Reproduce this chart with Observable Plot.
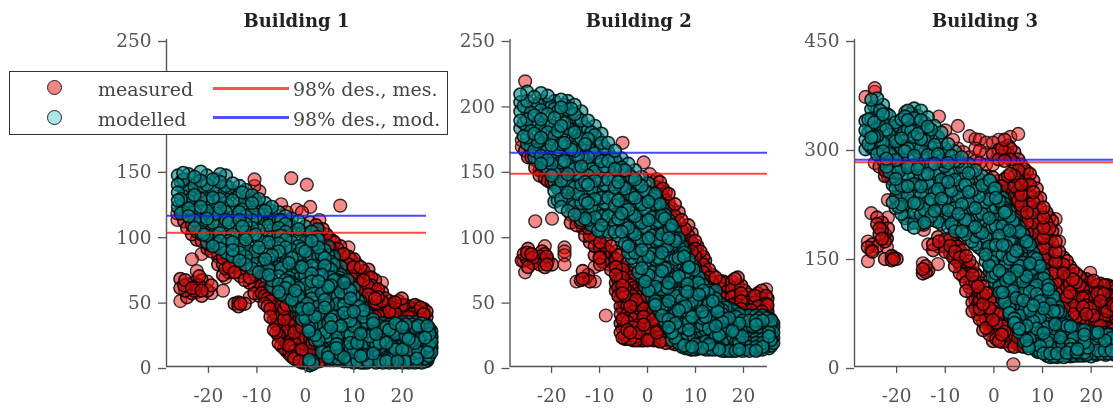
<!DOCTYPE html>
<html><head><meta charset="utf-8">
<script src="https://cdn.jsdelivr.net/npm/d3@7"></script>
<script src="https://cdn.jsdelivr.net/npm/@observablehq/plot@0.6"></script>
<style>
html,body{margin:0;padding:0;background:#fff;width:1113px;height:410px;overflow:hidden}
#wrap{position:relative;width:1113px;height:410px;overflow:hidden;filter:blur(.55px)}
.legend{position:absolute;left:9px;top:71px;width:437px;height:62px;background:#fff;border:1.4px solid #333;font-family:"DejaVu Serif",serif;font-size:19px;color:#444}
.legend span{position:absolute;white-space:nowrap}
.legend i{position:absolute;display:block;border-radius:50%;width:13px;height:13px;border:1.5px solid #222}
.legend b{position:absolute;display:block;height:3px;width:76px}
</style></head><body><div id="wrap"></div>
<script>
const titles=["Building 1","Building 2","Building 3"];
const xTicks=[-20,-10,0,10,20];
const yTicks1=[0,50,100,150,250];
const yTicks2=[0,50,100,150,200,250];
const yTicks3=[0,150,300,450];
const des1=[102.3,115.2],des2=[147.3,163.4],des3=[281,284.4];

const mod1=[[-26.3,[146,139,133,127,122]],[-25.2,[148,143,136,130,124,118]],[-24.1,[147,140,134,127,121,115]],[-22.9,[145,138,131,125,118,112,106]],[-21.6,[149,142,135,128,122,115,109,103]],[-20.3,[146,139,132,126,119,113,106,100,95]],[-19.1,[143,136,129,123,116,110,103,97,92]],[-17.6,[147,141,134,128,121,115,108,102,96,90]],[-16.4,[146,138,131,125,118,112,105,99,93,87]],[-15,[140,134,127,120,114,108,101,95,89,84]],[-13.6,[138,131,125,118,112,105,99,93,87,81]],[-12.3,[135,128,122,115,109,103,97,90,84,78]],[-11,[131,125,118,112,106,100,93,87,81,75]],[-9.6,[128,122,116,110,104,97,91,85,79,72]],[-8.3,[125,119,113,107,101,95,88,82,76,69]],[-6.9,[122,116,110,104,98,92,85,79,73,66,61]],[-5.5,[118,112,106,100,94,88,82,76,69,63,57]],[-4.1,[115,109,103,97,91,85,79,73,66,60,54]],[-2.8,[113,107,101,95,89,83,76,70,64,58,51]],[-1.4,[111,105,98,92,86,79,73,67,60,54,48,42]],[0,[107,101,95,88,82,75,69,63,56,50,44,37]],[1.3,[103,96,90,84,77,71,65,58,52,46,39,31,25]],[2.7,[97,91,84,78,72,65,59,53,46,40,33,27,20]],[4,[89,83,77,70,64,58,51,45,38,32,26,19,13]],[5.3,[80,74,68,62,55,49,43,36,30,24,18,12,6]],[6.7,[72,66,60,54,48,41,35,29,23,17,11,6]],[8,[65,59,53,47,41,35,29,23,17,12,7,4]],[9.3,[58,52,46,41,35,29,24,18,13,8,4]],[10.7,[51,45,40,34,29,23,18,13,8,4]],[12,[43,38,33,28,23,18,14,9,5,3]],[13.3,[36,33,28,23,19,15,11,7,4]],[14.6,[33,29,25,21,17,13,9,5,3]],[16,[33,29,24,20,16,12,8,5,3]],[17.3,[32,28,24,20,16,12,8,5,3]],[18.6,[33,29,25,21,17,13,9,5,3]],[20,[34,30,26,21,17,13,9,6,3]],[21.3,[34,29,25,21,17,13,9,5,3]],[22.6,[34,30,26,22,18,14,10,6,3]],[24,[33,29,25,21,17,13,9,5,3]],[25.2,[31,27,23,19,15,11,8,5]],[26,[27,23,19,15,11]]];
const mod1b=[[-25.7,[141,128,117]],[-23.4,[144,129,119]],[-21,[138,125,111,101]],[-18.4,[143,130,117,104,94]],[-15.8,[137,123,110,96,86]],[-13,[133,120,107,92,83]],[-10.3,[127,114,101,88,77]],[-7.6,[120,108,95,83,70,74]],[-5,[112,100,87,75,62,55]],[-3.4,[108,92,79,65,52,72,68,64,60]],[-2.1,[62,58,54,50,46]],[-0.7,[103,90,76,63,50,44,40,36]],[0.7,[100,86,72,58,44,34,30,27]],[2,[94,80,66,51,38,24,20]],[2.5,[105,99]],[3.4,[85,70,56,42,29,15,11]],[4.7,[92,85,76,61,47,33,20,10,7]],[5.9,[84,78,66,52,38,25,13,8,5]],[7.3,[76,70,57,44,31,19,9,5]],[8.7,[66,60,50,38,26,15,8,6,4]],[10,[60,54,42,31,21,11,7,5,3]],[11.4,[50,44,35,25,16,8,6,3]],[12.7,[40,34,27,20,12,8,5,3]],[14,[31,26,19,14,10,7,4]],[15.3,[31,26,22,18,14,10,6,4]],[16.7,[30,26,22,18,14,10,7,4]],[18,[31,27,23,19,15,11,7,4]],[19.3,[32,28,24,19,15,11,7,4]],[20.7,[32,27,23,19,15,11,7,4]],[22,[32,28,24,20,16,12,8,4]],[23.3,[31,27,23,19,15,11,7,4]],[24.7,[30,26,22,18,14,10,6,4]],[25.6,[29,25,21,17,13,9]]];
const dark1=[[-3.5,[64,60]],[-2.5,[56,52]],[-1.5,[50,46]],[0.4,[48,44]],[1.4,[42,38]],[2.4,[36,33]],[3.4,[31,28]],[4.4,[26,23]],[5.4,[21,19]],[6.4,[17,14]],[7.4,[13,10]],[7,[68,65]],[8,[64,60]],[9,[59,55,5,7]],[10,[54,50]],[11,[50,46,5,7]],[12,[45,41]],[13,[40,37,4,6]],[14,[36,33]],[15,[4,6]],[17,[4,6]],[19,[4,6]],[21,[4,6]],[23,[4,6]],[25.5,[8,12,16,20,24,28]],[26,[14,18,22]],[0.8,[3,5,1]],[1.6,[4,2]]];
const mea1=[[-26.4,[112,117]],[-25.8,[50,60,67]],[-25,[111,62]],[-24.4,[106,63,53]],[-23.4,[101,108,82,60,56]],[-22.4,[97,103,73,62,57]],[-21.4,[86,96,101,66,58,54]],[-20.2,[58,65,94,90]],[-19.4,[62,56,88,92]],[-18,[78,86,84]],[-17,[58,70,78,83]],[-15.8,[80,76,72]],[-14.6,[76,48,72]],[-13.4,[69,48,72,75]],[-12.5,[48,66]],[-11.5,[53,64,68]],[-10.5,[143,138,70,62,56]],[-9.5,[134,66,60,54]],[-8.4,[60,66,54,48]],[-7.2,[62,56,50,44,38]],[-6,[56,50,44,38,32,26]],[-5,[124,52,46,40,34,28,22,16]],[-3.9,[118,47,41,35,29,23,17,12]],[-2.9,[144,44,38,32,26,20,14,8]],[-1.8,[120,40,34,28,22,16,10,5]],[-0.7,[118,36,30,24,18,13,8,3]],[0.3,[139,32,26,20,15,9,4]],[1,[122,110,103,26,21,16,10,5,1]],[2.2,[108,102,95,20,15,10,5]],[3.6,[105,98,92,14,9,5]],[5,[98,91,85,9,5]],[6,[95,88,81]],[7.2,[123,92,85,78,72]],[8.9,[91,84,78,71,65,59]],[10,[82,76,69,63,57,50]],[11.4,[76,70,63,57,50,44]],[13,[74,68,61,55,48,41]],[14.4,[66,59,52,45,38]],[15.8,[64,57,50,43]],[17.3,[50,46,42,37]],[18.5,[49,45,41,36]],[19.9,[52,47,42,37]],[21.3,[46,42,38]],[22.6,[47,43,39]],[23.8,[45,41,37]],[25,[42,38,4,6]]];
const mea1b=[[-24.8,[58,66]],[-23,[64,58]],[-21.9,[62,69]],[-16.5,[75,68]],[-13.8,[49,46]],[-9,[72,62,56]],[-7.8,[68,58,52,46]],[-6.5,[60,52,42,36,28]],[-5.5,[50,42,36,30,24,18]],[-4.4,[52,44,36,28,20,14]],[-3.4,[48,40,30,24,16,10,12]],[-2.3,[44,36,26,18,12,6]],[-1.2,[38,30,22,14,8,4]],[0,[34,24,16,8,3]],[1.5,[28,18,12,6,3]],[2.9,[112,104,97,16,8,4]],[4.3,[101,94,12,7]],[5.6,[96,90,83,8]],[6.6,[90,83,76]],[7.9,[86,79,72,65]],[9.4,[82,74,68,60,53]],[10.7,[78,71,65,58,50]],[12,[73,66,59,51,44]],[13.6,[68,62,54,47,40]],[15,[59,53,46,39]],[16.5,[52,47,41]],[17.9,[48,43,38]],[19.2,[50,44,39]],[20.6,[47,43,38]],[22,[44,40,37]],[23.2,[46,42,38]],[24.4,[44,40,37]]];

const mod2=[[-26.5,[208,202,195,188,182]],[-25.1,[210,203,196,189,182,175,170]],[-23.6,[206,199,192,185,178,171,165,160]],[-22.2,[209,203,196,189,182,175,168,161,155]],[-20.8,[207,200,193,186,179,172,165,158,151]],[-19.4,[203,197,190,183,176,169,162,155,148,141,134,126]],[-18,[204,198,191,184,177,170,163,156,149,142,135,128,122]],[-16.6,[203,196,189,182,175,168,161,154,147,140,133,126,119]],[-15.2,[200,193,186,179,172,165,158,151,144,137,130,123,116]],[-13.8,[195,188,181,174,167,160,153,146,139,132,125,118,112]],[-12.4,[188,181,174,167,160,153,146,139,132,125,118,112]],[-11,[184,177,170,163,156,149,142,135,128,121,114,107]],[-9.6,[178,171,164,157,150,143,136,129,122,115,108,103]],[-8.2,[171,164,157,150,143,136,129,122,115,108,103]],[-6.8,[165,158,151,144,137,130,123,116,109,103]],[-5.4,[159,152,145,138,131,124,117,110,103,96]],[-4,[155,148,141,134,127,120,113,106,99,92,87]],[-2.6,[150,143,136,129,122,115,108,101,94,87,80]],[-1.2,[145,138,131,124,117,110,103,96,89,82,75,68]],[0.2,[140,133,126,119,112,105,98,91,84,77,70,63,58]],[1.6,[130,124,117,110,103,96,89,82,75,68,61,54,48]],[3,[122,115,108,101,94,87,80,73,66,59,52,45,39]],[4.4,[112,105,98,92,85,78,71,64,57,50,43,36,30]],[5.8,[103,96,89,82,75,68,61,54,47,40,33,27,22]],[7.2,[92,85,78,71,64,58,51,45,38,32,26,20,15]],[8.6,[82,76,70,64,58,52,46,40,34,28,23,18,14]],[10,[73,67,61,55,49,44,38,33,27,22,17,13]],[11.4,[64,58,53,47,42,37,32,27,22,18,14]],[12.8,[58,53,48,43,38,33,29,25,21,17,13]],[14.2,[58,52,47,41,36,31,27,23,19,15,13]],[15.6,[47,43,38,34,30,26,22,18,14,12]],[17,[45,41,37,33,29,25,21,17,14,12]],[18.4,[42,38,34,30,26,22,18,15,12]],[19.8,[39,35,31,27,23,20,17,14,12]],[21.2,[39,35,31,27,24,21,18,15,12]],[22.6,[39,35,32,28,25,21,18,15,12]],[24,[39,35,31,28,24,21,18,15,13]],[25.3,[37,33,30,26,23,20,17,14]],[26.2,[33,30,26,22,18]]];
const mod2b=[[-25.8,[199,186,176]],[-24.3,[194,180,167]],[-22.9,[201,187,172,159]],[-21.5,[193,178,164,153]],[-20,[199,184,169,155,146]],[-18.7,[195,180,166,150,136,127]],[-17.3,[200,186,171,157,142,128]],[-15.9,[197,181,166,151,137,122]],[-14.5,[190,176,161,147,132,118]],[-13,[183,170,155,141,127,113]],[-11.7,[179,165,151,136,122,108]],[-10.3,[174,160,146,131,117,104]],[-8.9,[167,153,139,125,111]],[-7.5,[160,146,132,118,105]],[-6.1,[155,141,127,113,100]],[-4.7,[150,136,122,108,94]],[-3.3,[145,131,117,103,89,83]],[-1.9,[140,126,112,98,84,72]],[-0.5,[134,120,106,92,78,65,61]],[0.9,[128,114,100,86,72,58,53]],[2.3,[126,111,97,83,69,56,44]],[3.7,[118,103,89,75,61,47,33]],[4.2,[100,92,84,76,68,60]],[5.1,[108,93,79,65,51,37,26,20]],[6.5,[98,83,69,56,43,30,18]],[7.9,[88,72,58,46,34,22,14,16]],[8.3,[75,69,63,57,51]],[9.3,[78,63,50,38,26,15,13]],[10.7,[68,55,43,31,20,14]],[12.1,[60,49,38,28,19,13]],[13.5,[54,44,34,25,17,13]],[14.9,[49,40,32,24,17,13]],[16.3,[45,36,28,20,14,12]],[17.7,[43,35,27,20,14,12]],[19.1,[40,33,25,19,13]],[20.5,[38,31,24,18,13]],[21.9,[38,31,24,18,13]],[23.3,[37,30,24,17,13]],[24.7,[37,30,23,16]],[25.8,[35,28,21,16]]];
const dark2=[[1.6,[132,128,50,47]],[2.6,[124,120,44,41]],[3.6,[116,113,38,35]],[4.6,[109,105,33,30]],[5.6,[102,98,28,25]],[6.6,[94,91,23,20]],[7.6,[87,84,18,16]],[8.6,[80,76]],[9,[15,13]],[9.6,[74,70]],[10.6,[68,64]],[11,[14,16]],[11.6,[62,58]],[12.6,[56,52]],[13,[14,16]],[13.6,[50,47]],[14.6,[45,42]],[15,[14,16]],[15.6,[40,37]],[17,[14,16]],[19,[14,16]],[21,[14,16]],[23,[14,16]],[25.7,[16,20,24,28,32,36]]];
const mea2=[[-26.2,[173,168,81]],[-25.8,[81,86]],[-25.5,[218,165,72]],[-24.9,[90,160,84,76]],[-24.2,[168,160,86,80]],[-23.4,[111,165,158,152]],[-22.5,[78,84,158,150,146]],[-21.4,[92,86,76,150,144]],[-20.8,[81,148,142]],[-19.9,[113,78,146,140]],[-18.6,[145,138]],[-17.3,[91,88,85,78,143]],[-16,[116,110]],[-14.8,[65,112,108]],[-13.5,[73,67,114,106]],[-13,[67,100,110]],[-12,[65,104,100,95]],[-11,[76,65,98,92,85]],[-9.9,[84,78,95,90]],[-8.7,[82,39,96,90]],[-7.6,[92,86,80,74]],[-6.6,[88,82,76,70,64,58]],[-5.2,[171,80,74,68,62,56,50,44,36,29,22]],[-4.2,[76,70,64,58,52,46,40,34,28,21]],[-3,[72,66,60,54,48,42,36,30,24,20]],[-1.8,[68,62,56,50,44,38,32,26,20]],[-0.8,[156,62,56,50,44,38,32,26,20]],[0.5,[147,142,56,50,45,38,33,27,21]],[1.9,[143,137,130,44,38,32,26,20]],[3.2,[136,130,124,36,30,25,20]],[4.4,[132,125,119,28,24,20]],[5,[121,114,108,22,18]],[6.5,[118,110,104,98]],[7.8,[105,98,92,86]],[8.5,[108,100,94,87,80]],[9.9,[96,90,84,76,70]],[11,[88,82,76,70,64]],[12,[81,74,68,62]],[13.5,[70,64,58,52]],[15,[65,60,54,48]],[16.4,[64,58,52,46]],[17.6,[65,59,53,47]],[18.8,[68,62,56,50]],[20.2,[58,53,47,42]],[21.6,[53,48,43]],[23,[56,51,46,41]],[24.7,[59,54,48,43]]];
const mea2b=[[-25.1,[82,87]],[-23.9,[79,83]],[-22,[82,88,150]],[-21,[78,84,154]],[-20,[147,141]],[-17.9,[142,148]],[-13.9,[66,110]],[-12.4,[70,106]],[-10,[83,93]],[-9.3,[86,80]],[-8,[88,78]],[-6.1,[85,78,72,66,60,54]],[-5.6,[72,66,58,52,46,40,33,26]],[-4.7,[60,54,47,41,35,30,24,21]],[-3.6,[68,62,54,46,38,31,26,21]],[-2.4,[58,51,44,36,29,23,20]],[-1.2,[60,52,46,40,35,29,23,20]],[0,[54,47,41,35,29,24,20]],[1.2,[48,42,36,29,24,20]],[2.6,[141,135,40,34,28,22,19]],[3.8,[133,127,32,26,21,18]],[5.7,[124,115,108,20,17]],[7.1,[112,104,97]],[9.2,[102,95,88,82]],[10.4,[92,86,80,74]],[11.6,[84,78,72,66]],[12.8,[74,68,61,55]],[14.2,[68,62,56,50]],[15.7,[65,59,53,47]],[17,[62,56,50]],[18.2,[67,60,54,48]],[19.5,[62,56,50,44]],[21,[55,49,44]],[22.4,[54,49,44]],[23.8,[58,52,47,42]],[25,[52,47,42]]];

const mod3=[[-26.4,[338,325,312,299]],[-25.2,[367,354,341,328,315,302]],[-24,[369,356,343,330,317,304,292]],[-22.8,[360,347,334,321,308,296,284]],[-21.5,[345,332,319,306,293,280,268]],[-20.2,[336,323,310,297,284,271,258,245,232,218]],[-19,[340,327,314,301,288,275,262,249,236,223,210]],[-17.7,[352,339,326,313,300,287,274,261,248,235,222,208,196]],[-16.4,[355,342,329,316,303,290,277,264,251,238,225,212,198,191]],[-15,[352,339,326,313,300,287,274,261,248,235,222,209,196]],[-13.6,[343,330,317,304,291,278,265,252,239,226,213,200]],[-12.2,[331,318,305,292,279,266,253,240,227,214,201]],[-10.8,[322,309,296,283,270,257,244,231,218,205,196]],[-9.4,[306,293,280,267,254,241,228,215,202,192]],[-8,[296,283,270,257,244,231,218,205,192,186]],[-6.6,[288,275,262,249,236,223,210,197,186]],[-5.2,[279,266,253,240,227,214,201,188,177]],[-3.8,[270,257,244,231,218,205,192,179,168]],[-2.4,[262,249,236,223,210,197,184,171,160]],[-1,[256,243,230,217,204,191,178,165,152,139]],[0.4,[245,232,219,206,193,180,167,154,141,128,115]],[1.8,[232,219,206,193,180,167,154,141,128,115,102,92]],[3.2,[213,200,187,174,161,148,135,122,109,96,83,72]],[4.6,[198,185,172,159,146,133,120,107,94,81,68,60]],[6,[182,169,156,143,130,117,104,91,78,65,52,42]],[7.4,[168,155,142,129,116,103,90,77,64,51,38,30]],[8.8,[148,136,124,112,100,88,76,64,52,40,30,22]],[10.2,[128,116,104,92,80,68,56,46,36,26,18]],[11.6,[108,97,86,75,64,54,45,36,27,18,13]],[13,[85,75,66,57,48,40,32,25,17,13]],[14.4,[66,58,50,43,36,29,23,17,13]],[15.8,[55,48,42,36,30,24,19,14]],[17.2,[52,46,40,35,29,24,19,15]],[18.6,[50,44,39,33,28,23,19,15]],[20,[48,43,37,32,27,23,18,14]],[21.4,[47,42,37,31,26,22,18]],[22.8,[46,41,36,31,26,22,18]],[24.2,[44,39,34,30,26,22,18]],[25.5,[42,37,32,28,24,20]]];
const mod3b=[[-25.8,[340,322,306]],[-24.6,[358,336,316,300]],[-23.4,[352,330,310,294]],[-22.1,[348,326,304,286,275]],[-20.8,[330,310,290,270,250,226]],[-19.6,[332,312,292,268,244,220]],[-18.3,[344,320,296,272,248,224,204]],[-17,[348,324,300,276,252,228,204]],[-15.7,[345,320,296,272,248,224,200]],[-14.3,[336,312,288,264,240,216,198]],[-12.9,[326,302,278,254,230,207]],[-11.5,[316,292,268,244,220,199]],[-10.1,[300,276,252,228,204]],[-8.7,[290,266,242,218,196]],[-7.3,[282,258,234,210,190]],[-5.9,[274,250,226,202,182]],[-4.5,[266,242,218,194,172]],[-3.1,[258,234,210,186,164]],[-1.7,[250,226,202,178,154,145]],[-0.3,[240,216,192,168,144,130,124]],[1.1,[228,204,180,156,132,110,102]],[2.5,[214,190,166,142,118,96,88]],[3.9,[200,176,152,128,104,82,68]],[2.2,[220,212,204,196,188]],[5.3,[186,162,138,114,92,70,52]],[4.8,[148,140,132,124,116]],[6.7,[172,148,124,100,78,56,36]],[8.1,[156,132,108,84,62,40,26]],[7.8,[150,142,134,126,118,110]],[9.5,[138,114,90,68,46,28,20]],[10.9,[118,96,74,54,34,20,15]],[12.3,[96,76,56,38,24,14]],[12.6,[82,74,66,58]],[13.7,[75,58,40,26,15,18]],[15.1,[60,46,32,22,15]],[16.5,[52,40,28,19,15]],[17.9,[50,38,27,18,15]],[19.3,[48,36,26,18]],[20.7,[46,35,25,18]],[22.1,[44,33,24,18]],[23.5,[44,33,24,18]],[24.9,[42,31,23,18]]];
const dark3=[[-0.8,[256,250,136,130]],[0.2,[245,239,122,116]],[1.2,[234,228,108,102]],[2.2,[224,218,94,88]],[3.2,[213,207,80,74]],[4.2,[203,197,66,60]],[5.2,[192,186,52,47]],[6.2,[181,175,38,34]],[7.2,[170,164,28,25]],[8.2,[156,150]],[9,[20,23]],[9.2,[142,136]],[10.2,[127,121]],[11,[15,19]],[11.2,[112,106]],[12.2,[97,91]],[13,[14,18]],[13.2,[82,76]],[14.2,[67,62]],[15,[56,50,15,19]],[17,[16,20]],[19,[16,20]],[21,[16,20]],[23,[16,20]],[25,[16,20]]];
const mea3=[[-26.4,[371]],[-25.9,[145,164,172]],[-25.2,[211,160,300]],[-24.5,[383,378,280]],[-24,[205,196,165]],[-23.5,[190,182,275]],[-22.4,[182,172,148,270,262]],[-21.8,[229,205,190,262]],[-20.6,[148,150,255]],[-20,[148,232,262]],[-19,[240,228]],[-18.2,[350,222]],[-14.6,[134,142,128]],[-14.4,[195,188]],[-13.5,[168,132]],[-12.5,[168,160]],[-11.5,[141,178]],[-11.3,[344,172,165]],[-10,[325,175,165,158]],[-8.4,[312,172,160,150,180]],[-7.4,[331,300,165,155,145]],[-6.3,[295,160,148,136,124]],[-5,[317,288,145,133,121,109]],[-3.8,[313,300,283,128,116,104,92,80]],[-2.9,[312,297,280,115,103,91,79,65]],[-1.6,[308,294,278,262,101,89,77,65,53]],[-0.2,[308,292,278,260,250,88,76,64,52,35]],[1,[312,298,285,255,242,72,60,48,35]],[2.2,[312,296,283,258,245,232,60,48,35]],[3.4,[316,300,285,265,250,236,222,46,35,28]],[4,[3]],[5,[320,285,270,256,242,228,214,200,40,30]],[6.2,[272,258,244,230,216,202,188,34,27]],[7.4,[265,250,236,222,208,194,180]],[8.8,[245,231,217,203,189,175,161,147]],[10.2,[219,205,191,177,163,149,135,122]],[11.4,[205,190,175,160,146,132,118]],[12.7,[203,187,172,158,144,130,116,102]],[14.3,[150,140,128,116,104,92,80]],[15.6,[138,126,114,102,90,78,66]],[16.9,[128,116,104,92,80,68,60]],[18.3,[118,106,94,82,70,60]],[19.8,[129,116,104,92,80,68,58]],[21.2,[112,100,88,76,64,55]],[22.6,[112,100,88,76,64,54]],[24,[110,98,86,74,62,52]],[25.2,[106,94,82,70,58]]];
const mea3b=[[-25,[168,158]],[-23,[188,176,198]],[-22,[176,164,268]],[-21,[152,146,258]],[-14,[138,130]],[-9,[175,166,156]],[-8,[168,158,148,138]],[-7,[160,150,140,128]],[-5.7,[152,140,128,116,104]],[-4.4,[138,126,114,100,88,76]],[-3.3,[124,110,98,86,72]],[-2.2,[110,98,86,74,62,50]],[-0.9,[102,92,80,68,56,44]],[0.5,[84,72,60,48,38]],[1.6,[300,290,248,236,68,56,44,34]],[2.9,[304,292,262,250,238,54,42,34]],[4.2,[295,280,262,248,232,218,44,34,27]],[5.6,[278,264,250,236,222,208,194,36,28]],[6.8,[268,254,240,226,212,198,184]],[8.1,[256,240,226,212,198,184,170,156]],[9.5,[232,218,204,190,176,162,148,134]],[10.8,[212,198,184,170,156,142,128,112]],[12,[200,186,170,156,142,128,112,98]],[13.4,[172,158,144,130,116,102,88,76]],[15,[145,132,120,108,96,84,72]],[16.2,[132,120,108,96,84,72,60]],[17.6,[124,112,100,88,76,64]],[19,[120,108,96,84,72,60]],[20.5,[118,106,94,82,70,58]],[21.9,[114,102,90,78,66,56]],[23.3,[112,100,88,76,64,54]],[24.6,[108,96,84,72,60,50]]];

function flat(...lists){return lists.flatMap(cols=>cols.flatMap(([x,ys])=>ys.map(y=>({x,y}))));}
const panels=[
 {title:titles[0],left:0,axis:166,right:426,mea:flat(mea1,mea1b),mod:flat(mod1,mod1b,dark1),des:des1,yMax:250,yTicks:yTicks1},
 {title:titles[1],left:440,axis:509.5,right:767,mea:flat(mea2,mea2b),mod:flat(mod2,mod2b,dark2),des:des2,yMax:250,yTicks:yTicks2},
 {title:titles[2],left:785,axis:854,right:1115,mea:flat(mea3,mea3b),mod:flat(mod3,mod3b,dark3),des:des3,yMax:450,yTicks:yTicks3}
];
const FONT='"DejaVu Serif",serif', AX='#555', X0=-28.66;
const drawOrder=d=>((d.x*37+d.y*11)%17+17)%17;
function split(pts,pxY,limit){
 const near=d=>pts.filter(e=>Math.hypot((e.x-d.x)*4.85,(e.y-d.y)*pxY)<9).length;
 const tagged=pts.map(d=>({...d,n:near(d)}));
 const by=d3.sort(tagged,drawOrder);
 return {sparse:by.filter(d=>d.n<=limit),dense:by.filter(d=>d.n>limit)};
}
const wrap=document.getElementById('wrap');
for(const p of panels){
 const width=p.right-p.left+12;
 const pxY=327/p.yMax;
 const mea=split(p.mea,pxY,3),mod=split(p.mod,pxY,2);
 const dot=(data,fill,fo,stroke,so,sw)=>Plot.dot(data,{x:"x",y:"y",r:6.4,fill,fillOpacity:fo,stroke,strokeOpacity:so,strokeWidth:sw});
 const chart=Plot.plot({
  width,height:410,marginLeft:p.axis-p.left,marginRight:12,marginTop:39,marginBottom:44,
  style:{background:"transparent",overflow:"visible"},
  x:{domain:[X0,25],axis:null},
  y:{domain:[0,p.yMax],axis:null},
  marks:[
   dot(mea.sparse,"#e60000",.46,"#111",.85,1.4),
   dot(mea.dense,"#d01010",.6,"#100000",.9,1.6),
   dot(mod.sparse,"#008a8a",.32,"#041414",.85,1.4),
   dot(mod.dense,"#078a8a",.62,"#001010",.9,1.6),
   Plot.ruleY([p.des[0]],{stroke:"#ff1a1a",strokeOpacity:.8,strokeWidth:2}),
   Plot.ruleY([p.des[1]],{stroke:"#1a1aff",strokeOpacity:.8,strokeWidth:2}),
   Plot.ruleX([X0],{stroke:AX,strokeWidth:1.4}),
   Plot.ruleY([0],{stroke:AX,strokeWidth:1.4}),
   Plot.axisX({ticks:xTicks,tickSize:7,tickPadding:15,stroke:AX,tickFormat:d=>d,fontFamily:FONT,fontSize:18.5,fill:"#555",label:null,strokeWidth:1.3}),
   Plot.axisY({ticks:p.yTicks,tickSize:8,tickPadding:7,stroke:AX,fontFamily:FONT,fontSize:18.5,fill:"#555",label:null,strokeWidth:1.3,dy:2}),
   Plot.text([p.title],{frameAnchor:"top",dy:-25,text:d=>d,fontFamily:FONT,fontWeight:"bold",fontSize:18,fill:"#222"})
  ]
 });
 chart.style.position="absolute";chart.style.left=p.left+"px";chart.style.top="0";
 wrap.appendChild(chart);
}
const lg=document.createElement('div');lg.className='legend';
lg.innerHTML=`<i style="left:37px;top:8px;background:#f08585"></i><span style="left:88px;top:6px">measured</span>
<b style="left:203px;top:15px;background:#ff5050"></b><span style="left:283px;top:6px">98% des., mes.</span>
<i style="left:37px;top:38px;background:#aee6e6"></i><span style="left:88px;top:36px">modelled</span>
<b style="left:203px;top:44px;background:#5050ff"></b><span style="left:283px;top:36px">98% des., mod.</span>`;
wrap.appendChild(lg);
</script></body></html>
